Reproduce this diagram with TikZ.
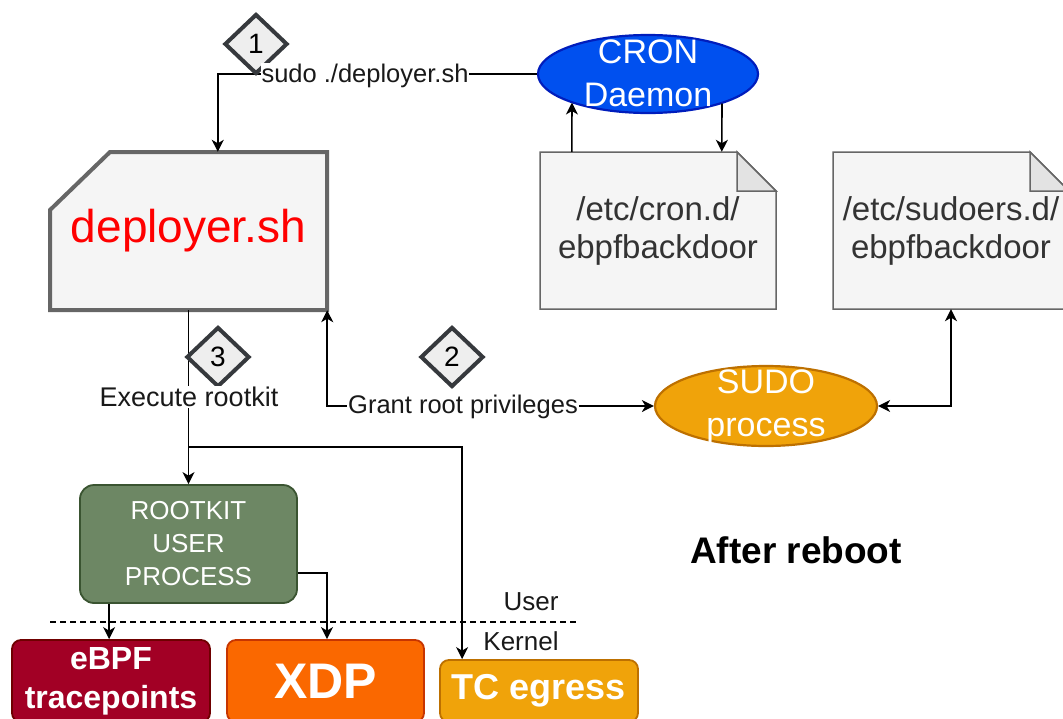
\documentclass[tikz,border=0pt]{standalone}
\usepackage{fontspec}
\setmainfont{Liberation Sans}
\usetikzlibrary{shapes.geometric,arrows.meta,calc}
\definecolor{cgrayfill}{HTML}{F5F5F5}
\definecolor{cgraydraw}{HTML}{666666}
\definecolor{cfold}{HTML}{E3E3E3}
\definecolor{ctext}{HTML}{333333}
\definecolor{cdiafill}{HTML}{EEEEEE}
\definecolor{cdiadraw}{HTML}{36393D}
\definecolor{cblue}{HTML}{0050EF}
\definecolor{cbluedark}{HTML}{001DBC}
\definecolor{corange}{HTML}{F0A30A}
\definecolor{corangedark}{HTML}{BD7000}
\definecolor{cgreen}{HTML}{6D8764}
\definecolor{cgreendark}{HTML}{3A5431}
\definecolor{cred}{HTML}{A20025}
\definecolor{creddark}{HTML}{6F0000}
\definecolor{cxdp}{HTML}{FA6800}
\definecolor{cxdpdark}{HTML}{C73500}
\begin{document}
\begin{tikzpicture}[x=1pt,y=-1pt,
  conn/.style={line width=1.6pt, draw=black},
  tip/.style={-{Stealth[length=12pt,width=12pt,inset=3.5pt]}},
  bothtip/.style={{Stealth[length=12pt,width=12pt,inset=3.5pt]}-{Stealth[length=12pt,width=12pt,inset=3.5pt]}},
  filebox/.style={line width=1.5pt, draw=cgraydraw, fill=cgrayfill},
  foldbox/.style={line width=1.5pt, draw=cgraydraw, fill=cfold},
  filetext/.style={minimum width=236pt, minimum height=157pt, inner sep=0pt, text=ctext, align=center, font=\fontsize{33}{38}\selectfont},
  numdia/.style={diamond, minimum width=63pt, minimum height=60pt, inner sep=0pt, fill=cdiafill, draw=cdiadraw, line width=4pt, font=\fontsize{28}{28}\selectfont},
  lab/.style={fill=white, inner sep=1pt, text=black!90, font=\fontsize{25.5}{29}\selectfont},
  ell/.style={ellipse, inner sep=0pt, line width=2.2pt},
  elltext/.style={text=white, align=center, font=\fontsize{34}{43}\selectfont},
  kbox/.style={rounded corners=9pt, line width=1.8pt, inner sep=0pt, text=white, align=center}
]
\useasboundingbox (0,0) rectangle (1063,718);

% ---------- shapes ----------
% deployer.sh card
\draw[line width=4pt, draw=cgraydraw, fill=cgrayfill] (50,210) -- (110,152) -- (327,152) -- (327,310) -- (50,310) -- cycle;
\node[minimum width=277pt, minimum height=158pt, inner sep=0pt, text=red, font=\fontsize{46}{55}\selectfont] (dep) at (188.5,231) {deployer.sh};

% cron file
\draw[filebox] (540,152) -- (737,152) -- (776,191) -- (776,309) -- (540,309) -- cycle;
\draw[foldbox] (737,152) -- (737,191) -- (776,191) -- cycle;
\node[filetext] (cronf) at (658,230.5) {/etc/cron.d/\\ebpfbackdoor};

% sudoers file
\draw[filebox] (833,152) -- (1030,152) -- (1069,191) -- (1069,309) -- (833,309) -- cycle;
\draw[foldbox] (1030,152) -- (1030,191) -- (1069,191) -- cycle;
\node[filetext] (sudf) at (951,230.5) {/etc/sudoers.d/\\ebpfbackdoor};

% ellipses
\node[ell, minimum width=220pt, minimum height=78pt, fill=cblue, draw=cbluedark] (cron) at (648,74) {};
\node[elltext] (cront) at (648,73.5) {CRON\\Daemon};
\node[ell, minimum width=222pt, minimum height=80pt, fill=corange, draw=corangedark] (sudo) at (766,406) {};
\node[elltext] (sudot) at (766,406.5) {SUDO\\process};

% rootkit user process
\node[kbox, rounded corners=14pt, minimum width=217pt, minimum height=118pt, fill=cgreen, draw=cgreendark, font=\fontsize{26}{33}\selectfont] (rk) at (188.5,544) {ROOTKIT\\USER\\PROCESS};

% kernel boxes
\node[kbox, minimum width=198pt, minimum height=82pt, fill=cred, draw=creddark, font=\bfseries\fontsize{32}{39}\selectfont] (ebpf) at (111,681) {eBPF\\tracepoints};
\node[kbox, minimum width=197pt, minimum height=82pt, fill=cxdp, draw=cxdpdark, font=\bfseries\fontsize{50}{55}\selectfont] (xdp) at (325.5,681) {XDP};
\node[kbox, minimum width=198pt, minimum height=62pt, fill=corange, draw=corangedark, font=\bfseries\fontsize{36}{40}\selectfont] (tc) at (539,691) {TC egress};

% ---------- connectors ----------
\draw[conn,tip] (cron.west) -| ($(dep.north west)+(168,0)$);
\draw[conn,tip] ($(cronf.north west)+(32,0)$) -- ($(cron.center)+(-76,28.5)$);
\draw[conn,tip] ($(cron.center)+(74,29.5)$) -- ($(cronf.north west)+(182,0)$);
\draw[conn,bothtip] (dep.south east) |- (sudo.west);
\draw[conn,bothtip] (sudo.east) -| (sudf.south);
\draw[conn,tip] (dep.south) -- (rk.north);
\coordinate (br) at ($(dep.south)+(0,137)$);
\draw[conn,tip] (br) -| ($(tc.north west)+(23,0)$);
\draw[conn,tip] ($(rk.south west)+(30,0)$) -- ($(ebpf.north west)+(98,0)$);
\draw[conn,tip] ($(rk.east)+(0,29)$) -| ($(xdp.north)+(1.5,0)$);

% user / kernel boundary
\draw[line width=1.3pt, dash pattern=on 6pt off 4pt] (50,622) -- (577,622);
\node[font=\fontsize{26}{30}\selectfont, text=black!90] (user) at (531,602) {User};
\node[font=\fontsize{26}{30}\selectfont, text=black!90] (kernel) at (521,641) {Kernel};

% step diamonds
\node[numdia] (d1) at (256,44) {1};
\node[numdia] (d2) at (452,357) {2};
\node[numdia] (d3) at (218,357) {3};

% connector labels
\node[lab] (l1) at (365,76) {sudo ./deployer.sh};
\node[lab] (l2) at (463,407) {Grant root privileges};
\node[lab, font=\fontsize{27}{30}\selectfont] (l3) at (189,397) {Execute rootkit};

\node[font=\bfseries\fontsize{37}{40}\selectfont] (after) at (796,550) {After reboot};
\end{tikzpicture}
\end{document}
